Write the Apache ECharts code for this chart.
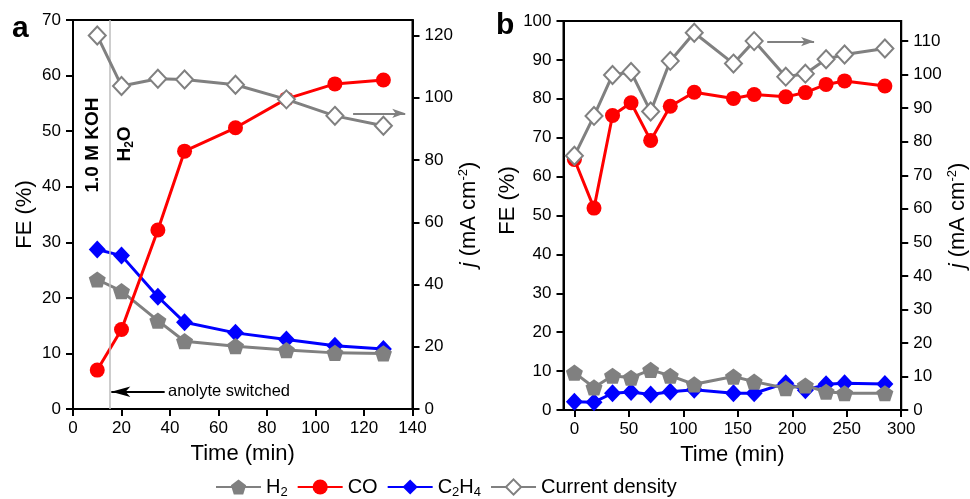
<!DOCTYPE html>
<html><head><meta charset="utf-8">
<script src="https://cdn.jsdelivr.net/npm/echarts@6/dist/echarts.min.js"></script>
<style>html,body{margin:0;padding:0;background:#fff}#c{width:970px;height:499px}</style>
</head><body><div id="c"></div>
<script>
// ---- Panel a data ----
const timeA = [10, 20, 35, 46, 67, 88, 108, 128];
const h2A = [23.3, 21.2, 15.9, 12.2, 11.3, 10.6, 10.1, 10.0];
const coA = [7.0, 14.3, 32.2, 46.4, 50.6, 55.8, 58.5, 59.2];
const c2h4A = [28.7, 27.6, 20.2, 15.6, 13.7, 12.5, 11.4, 10.8];
const cdA = [120.0, 103.8, 106.1, 105.9, 104.2, 99.5, 94.2, 91.0];
// ---- Panel b data ----
const timeB = [0, 18, 35, 52, 70, 88, 110, 146, 165, 194, 212, 231, 248, 285];
const h2B = [9.6, 5.8, 8.8, 8.3, 10.3, 8.8, 6.6, 8.6, 7.3, 5.6, 6.3, 4.7, 4.3, 4.3];
const coB = [64.4, 51.9, 75.7, 79.0, 69.3, 78.1, 81.7, 80.1, 81.1, 80.5, 81.6, 83.7, 84.6, 83.3];
const c2h4B = [2.1, 2.0, 4.3, 4.6, 4.0, 4.7, 5.2, 4.3, 4.3, 6.9, 5.1, 6.6, 6.9, 6.7];
const cdB = [75.8, 87.7, 99.9, 100.8, 89.0, 104.1, 112.5, 103.3, 110.0, 99.4, 100.3, 104.6, 106.0, 107.8];
// ---- tick labels ----
const xTicksA = [0, 20, 40, 60, 80, 100, 120, 140];
const xTicksB = [0, 50, 100, 150, 200, 250, 300];
const feTicksA = [0, 10, 20, 30, 40, 50, 60, 70];
const jTicksA = [0, 20, 40, 60, 80, 100, 120];
const feTicksB = [0, 10, 20, 30, 40, 50, 60, 70, 80, 90, 100];
const jTicksB = [0, 10, 20, 30, 40, 50, 60, 70, 80, 90, 100, 110];
const seriesNames = ['H2', 'CO', 'C2H4', 'Current density'];

const zip = (xs, ys) => xs.map((x, i) => [x, ys[i]]);
const FONT = '"Liberation Sans", Arial, Helvetica, sans-serif';
const PENT = 'path://M0,-1L0.951,-0.309L0.588,0.809L-0.588,0.809L-0.951,-0.309Z';
const GRAY = '#808080';

const jName = '{i|j} (mA cm{sup|-2})';
const nameRich = {
  i: {fontStyle: 'italic', fontSize: 22, fontFamily: FONT, color: '#000'},
  sup: {fontSize: 13, fontFamily: FONT, color: '#000', padding: [0, 0, 12, 0]}
};

function xAxis(grid, min, max, ticks) {
  return {
    gridIndex: grid, type: 'value', min: min, max: max,
    name: 'Time (min)', nameLocation: 'middle', nameGap: 34,
    nameTextStyle: {fontSize: 22, fontFamily: FONT, color: '#000'},
    axisLine: {show: true, onZero: false, lineStyle: {color: '#000', width: 2}},
    axisTick: {show: true, inside: false, length: 7, lineStyle: {width: 2, color: '#000'}, customValues: ticks},
    axisLabel: {fontSize: 17, fontFamily: FONT, color: '#000', margin: 11, customValues: ticks},
    splitLine: {show: false}
  };
}
function yAxis(grid, pos, max, ticks, name, gap, rich, pad) {
  return {
    gridIndex: grid, type: 'value', position: pos, min: 0, max: max,
    name: name, nameLocation: 'middle', nameGap: gap,
    nameTextStyle: {fontSize: 22, fontFamily: FONT, color: '#000', rich: rich, padding: pad || 0},
    axisLine: {show: true, onZero: false, lineStyle: {color: '#000', width: 2}},
    axisTick: {show: true, inside: false, length: 7, lineStyle: {width: 2, color: '#000'}, customValues: ticks},
    axisLabel: {fontSize: 17, fontFamily: FONT, color: '#000', margin: 12, customValues: ticks},
    splitLine: {show: false}
  };
}

function mkSeries(name, xi, yi, data, extra) {
  const base = {
    name: name, type: 'line', xAxisIndex: xi, yAxisIndex: yi, data: data,
    animation: false, silent: true
  };
  if (name === 'H2') Object.assign(base, {
    color: GRAY, symbol: PENT, symbolSize: 17, symbolKeepAspect: true,
    lineStyle: {color: GRAY, width: 3}, itemStyle: {color: GRAY}, z: 3
  });
  if (name === 'CO') Object.assign(base, {
    color: '#ff0000', symbol: 'circle', symbolSize: 15,
    lineStyle: {color: '#ff0000', width: 3}, itemStyle: {color: '#ff0000'}, z: 4
  });
  if (name === 'C2H4') Object.assign(base, {
    color: '#0000ff', symbol: 'diamond', symbolSize: [17, 18],
    lineStyle: {color: '#0000ff', width: 3}, itemStyle: {color: '#0000ff'}, z: 2
  });
  if (name === 'Current density') Object.assign(base, {
    color: GRAY, symbol: 'diamond', symbolSize: [17, 18],
    lineStyle: {color: GRAY, width: 3},
    itemStyle: {color: '#fff', borderColor: GRAY, borderWidth: 2}, z: 5
  });
  return Object.assign(base, extra || {});
}

const arrowGray = (x1, x2, y) => [
  {coord: [x1, y], symbol: 'none'},
  {coord: [x2, y], symbol: 'arrow', symbolSize: [7, 13]}
];

const option = {
  backgroundColor: '#fff',
  animation: false,
  textStyle: {fontFamily: FONT},
  grid: [
    {left: 73, top: 20, width: 339.5, height: 389, show: true, borderColor: '#000', borderWidth: 2, backgroundColor: 'transparent'},
    {left: 563.5, top: 21, width: 339, height: 389, show: true, borderColor: '#000', borderWidth: 2, backgroundColor: 'transparent'}
  ],
  xAxis: [xAxis(0, 0, 140, xTicksA), xAxis(1, -10, 300, xTicksB)],
  yAxis: [
    yAxis(0, 'left', 70, feTicksA, 'FE (%)', 37, undefined, [0, 0, 0, 0]),
    yAxis(0, 'right', 125, jTicksA, jName, 40, nameRich),
    yAxis(1, 'left', 100, feTicksB, 'FE (%)', 37, undefined, [0, 0, 0, 30]),
    yAxis(1, 'right', 116, jTicksB, jName, 40, nameRich)
  ],
  legend: {
    data: seriesNames,
    left: 210, top: 472,
    itemWidth: 45, itemHeight: 19, itemGap: 9,
    textStyle: {fontSize: 20, fontFamily: FONT, color: '#000',
      rich: {sub: {fontSize: 13, fontFamily: FONT, color: '#000', padding: [10, 0, 0, 0]}}},
    formatter: function (n) {
      if (n === 'H2') return 'H{sub|2}';
      if (n === 'C2H4') return 'C{sub|2}H{sub|4}';
      return n;
    },
    selectedMode: false
  },
  series: [
    mkSeries('C2H4', 0, 0, zip(timeA, c2h4A), {
      markLine: {silent: true, animation: false, label: {show: false},
        lineStyle: {color: '#000', width: 2, type: 'solid'},
        data: [[{coord: [37.8, 3.1], symbol: 'none'}, {coord: [15.8, 3.1], symbol: 'arrow', symbolSize: [8, 19]}]]}
    }),
    mkSeries('H2', 0, 0, zip(timeA, h2A), {
      markLine: {silent: true, animation: false, symbol: 'none', label: {show: false},
        lineStyle: {color: '#bdbdbd', width: 1.5, type: 'solid'},
        data: [{xAxis: 15}]}
    }),
    mkSeries('CO', 0, 0, zip(timeA, coA), {
      markLine: {silent: true, animation: false, label: {show: false},
        lineStyle: {color: GRAY, width: 2, type: 'solid'},
        data: [arrowGray(115.5, 137, 53.2)]}
    }),
    mkSeries('Current density', 0, 1, zip(timeA, cdA)),

    mkSeries('C2H4', 1, 2, zip(timeB, c2h4B)),
    mkSeries('H2', 1, 2, zip(timeB, h2B)),
    mkSeries('CO', 1, 2, zip(timeB, coB), {
      markLine: {silent: true, animation: false, label: {show: false},
        lineStyle: {color: GRAY, width: 2, type: 'solid'},
        data: [arrowGray(177, 220, 94.7)]}
    }),
    mkSeries('Current density', 1, 3, zip(timeB, cdB))
  ],
  graphic: [
    {type: 'text', x: 12, y: 29, style: {text: 'a', font: 'bold 30px ' + FONT, fill: '#000', verticalAlign: 'middle'}},
    {type: 'text', x: 496, y: 26, style: {text: 'b', font: 'bold 30px ' + FONT, fill: '#000', verticalAlign: 'middle'}},
    {type: 'text', x: 93, y: 145, rotation: Math.PI / 2,
      style: {text: '1.0 M KOH', font: 'bold 19px ' + FONT, fill: '#000', align: 'center', verticalAlign: 'middle'}},
    {type: 'text', x: 125, y: 144, rotation: Math.PI / 2,
      style: {text: '{b|H}{s|2}{b|O}', align: 'center', verticalAlign: 'middle',
        rich: {b: {font: 'bold 19px ' + FONT, fill: '#000'}, s: {font: 'bold 12px ' + FONT, fill: '#000', padding: [10, 0, 0, 0]}}}},
    {type: 'text', x: 168, y: 391,
      style: {text: 'anolyte switched', font: '16.5px ' + FONT, fill: '#000', verticalAlign: 'middle'}}
  ]
};
const chart = echarts.init(document.getElementById('c'), null, {renderer: 'canvas'});
chart.setOption(option);
</script>
</body></html>
